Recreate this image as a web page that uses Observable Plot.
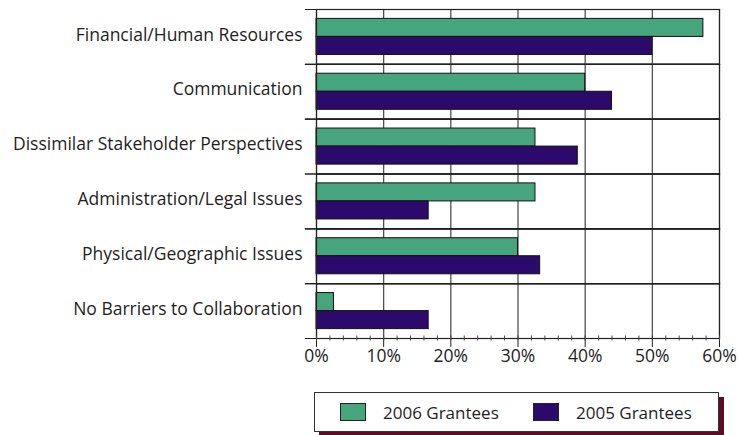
<!DOCTYPE html>
<html>
<head>
<meta charset="utf-8">
<script src="https://cdn.jsdelivr.net/npm/d3@7"></script>
<script src="https://cdn.jsdelivr.net/npm/@observablehq/plot@0.6"></script>
<style>
  html, body { margin: 0; padding: 0; background: #fff; }
  #wrap { position: relative; width: 738px; height: 435px; font-family: "Open Sans", sans-serif; color: #1e1e1e; }
  #legend { position: absolute; left: 314px; top: 392px; width: 403px; height: 38px; border: 1px solid #333; background: #fff; box-shadow: 5px 5px 0 #5e0b25; }
  .item { position: absolute; top: 0; height: 38px; display: flex; align-items: center; font-size: 17px; }
  .sw { width: 24px; height: 16px; border: 1px solid #222; margin-right: 17px; }
</style>
</head>
<body>
<div id="wrap"><div id="chart"></div><div id="legend"></div></div>
<script>
const categories = [
  "Financial/Human Resources",
  "Communication",
  "Dissimilar Stakeholder Perspectives",
  "Administration/Legal Issues",
  "Physical/Geographic Issues",
  "No Barriers to Collaboration"
];
const series = ["2006 Grantees", "2005 Grantees"];
const values2006 = [57.6, 40, 32.6, 32.6, 30, 2.6];
const values2005 = [50, 44, 38.9, 16.7, 33.3, 16.7];
const colors = ["#46a57c", "#2c0a6c"];
const xTicks = [0, 10, 20, 30, 40, 50, 60];
const xMinorTicks = d3.range(0, 61, 2);

const data = categories.flatMap((c, i) => [
  {category: c, series: series[0], value: values2006[i]},
  {category: c, series: series[1], value: values2005[i]}
]);

const chart = Plot.plot({
  width: 738,
  height: 380,
  marginLeft: 316,
  marginRight: 19,
  marginTop: 9,
  marginBottom: 42,
  style: {fontFamily: '"Open Sans", sans-serif', fontSize: "17.5px", color: "#1e1e1e", background: "#fff"},
  x: {domain: [0, 60]},
  fy: {domain: categories, padding: 0, round: false},
  y: {domain: series, paddingInner: 0, paddingOuter: 0.52, round: false, axis: null},
  color: {domain: series, range: colors},
  marks: [
    Plot.gridX(xTicks, {stroke: "#444", strokeOpacity: 1, strokeWidth: 1.2}),
    Plot.barX(data, {fy: "category", y: "series", x: "value", fill: "series", stroke: "#111", strokeWidth: 1}),
    Plot.frame({stroke: "#222", strokeWidth: 1.2}),
    Plot.frame({anchor: "top", insetLeft: -11, stroke: "#222", strokeWidth: 1.2}),
    Plot.frame({anchor: "bottom", insetLeft: -11, stroke: "#222", strokeWidth: 1.2}),
    Plot.axisFy({anchor: "left", tickSize: 0, tickPadding: 14, dy: -2, label: null, fontSize: 17.5}),
    Plot.axisX({ticks: xTicks, tickSize: 9, tickPadding: 2, tickFormat: d => d + "%", label: null, fontSize: 17.5, stroke: "#222"}),
    Plot.axisX({ticks: xMinorTicks, tickSize: 5, dy: -2.5, tickFormat: () => "", label: null, stroke: "#444"})
  ]
});
document.getElementById("chart").appendChild(chart);

const legend = document.getElementById("legend");
const lefts = [25, 218];
series.forEach((s, i) => {
  const item = document.createElement("div");
  item.className = "item";
  item.style.left = lefts[i] + "px";
  const sw = document.createElement("div");
  sw.className = "sw";
  sw.style.background = colors[i];
  item.appendChild(sw);
  item.appendChild(document.createTextNode(s));
  legend.appendChild(item);
});
</script>
</body>
</html>
